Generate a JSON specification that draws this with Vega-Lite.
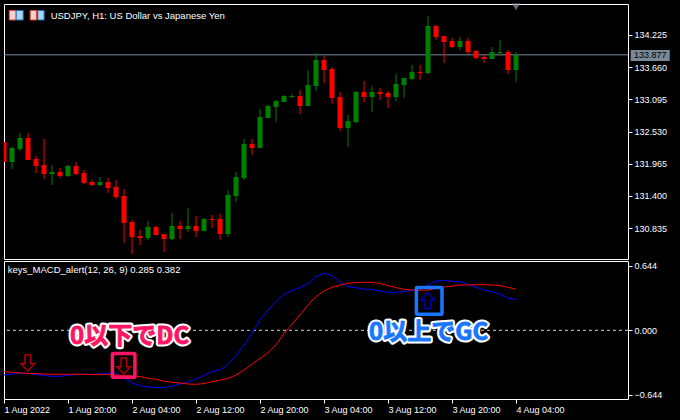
{"$schema":"https://vega.github.io/schema/vega-lite/v6.json","background":"#000000","padding":{"left":3,"top":3,"right":0,"bottom":0},"spacing":0,"config":{"view":{"stroke":"#ffffff","strokeWidth":1},"axis":{"labelFont":"Liberation Sans","labelFontSize":9,"labelColor":"#ffffff","tickColor":"#ffffff","domain":false,"grid":false,"title":null},"text":{"font":"Liberation Sans"}},"datasets":{"candles":[
{"t":"2022-08-01T12:00Z","dir":"down","o":132.347,"h":132.347,"l":131.996,"c":131.996},
{"t":"2022-08-01T13:00Z","dir":"up","o":131.996,"h":132.26,"l":131.874,"c":132.242},
{"t":"2022-08-01T14:00Z","dir":"up","o":132.225,"h":132.505,"l":132.189,"c":132.418},
{"t":"2022-08-01T15:00Z","dir":"down","o":132.418,"h":132.505,"l":132.032,"c":132.032},
{"t":"2022-08-01T16:00Z","dir":"down","o":132.049,"h":132.102,"l":131.803,"c":131.926},
{"t":"2022-08-01T17:00Z","dir":"down","o":131.944,"h":132.4,"l":131.698,"c":131.786},
{"t":"2022-08-01T18:00Z","dir":"up","o":131.786,"h":131.944,"l":131.593,"c":131.821},
{"t":"2022-08-01T19:00Z","dir":"down","o":131.821,"h":131.891,"l":131.716,"c":131.751},
{"t":"2022-08-01T20:00Z","dir":"up","o":131.751,"h":131.944,"l":131.733,"c":131.926},
{"t":"2022-08-01T21:00Z","dir":"down","o":131.926,"h":131.996,"l":131.768,"c":131.786},
{"t":"2022-08-01T22:00Z","dir":"down","o":131.803,"h":131.856,"l":131.61,"c":131.628},
{"t":"2022-08-01T23:00Z","dir":"down","o":131.645,"h":131.681,"l":131.575,"c":131.593},
{"t":"2022-08-02T00:00Z","dir":"up","o":131.593,"h":131.733,"l":131.575,"c":131.645},
{"t":"2022-08-02T01:00Z","dir":"down","o":131.645,"h":131.716,"l":131.452,"c":131.54},
{"t":"2022-08-02T02:00Z","dir":"down","o":131.558,"h":131.681,"l":131.347,"c":131.382},
{"t":"2022-08-02T03:00Z","dir":"down","o":131.4,"h":131.523,"l":130.575,"c":130.926},
{"t":"2022-08-02T04:00Z","dir":"down","o":130.943,"h":130.979,"l":130.382,"c":130.68},
{"t":"2022-08-02T05:00Z","dir":"down","o":130.698,"h":130.803,"l":130.54,"c":130.663},
{"t":"2022-08-02T06:00Z","dir":"up","o":130.663,"h":130.961,"l":130.628,"c":130.856},
{"t":"2022-08-02T07:00Z","dir":"down","o":130.856,"h":130.873,"l":130.715,"c":130.715},
{"t":"2022-08-02T08:00Z","dir":"down","o":130.733,"h":130.733,"l":130.417,"c":130.645},
{"t":"2022-08-02T09:00Z","dir":"up","o":130.645,"h":131.101,"l":130.628,"c":130.873},
{"t":"2022-08-02T10:00Z","dir":"down","o":130.873,"h":130.961,"l":130.645,"c":130.821},
{"t":"2022-08-02T11:00Z","dir":"up","o":130.821,"h":131.189,"l":130.768,"c":130.873},
{"t":"2022-08-02T12:00Z","dir":"down","o":130.873,"h":131.049,"l":130.68,"c":130.785},
{"t":"2022-08-02T13:00Z","dir":"up","o":130.785,"h":131.014,"l":130.785,"c":130.996},
{"t":"2022-08-02T14:00Z","dir":"down","o":130.996,"h":131.066,"l":130.838,"c":130.979},
{"t":"2022-08-02T15:00Z","dir":"down","o":130.996,"h":131.084,"l":130.628,"c":130.733},
{"t":"2022-08-02T16:00Z","dir":"up","o":130.733,"h":131.505,"l":130.68,"c":131.417},
{"t":"2022-08-02T17:00Z","dir":"up","o":131.4,"h":131.821,"l":131.294,"c":131.733},
{"t":"2022-08-02T18:00Z","dir":"up","o":131.716,"h":132.4,"l":131.681,"c":132.312},
{"t":"2022-08-02T19:00Z","dir":"down","o":132.312,"h":132.4,"l":132.119,"c":132.242},
{"t":"2022-08-02T20:00Z","dir":"up","o":132.242,"h":132.927,"l":132.242,"c":132.786},
{"t":"2022-08-02T21:00Z","dir":"up","o":132.769,"h":132.997,"l":132.769,"c":132.979},
{"t":"2022-08-02T22:00Z","dir":"up","o":132.962,"h":133.085,"l":132.698,"c":133.067},
{"t":"2022-08-02T23:00Z","dir":"up","o":133.049,"h":133.172,"l":133.049,"c":133.155},
{"t":"2022-08-03T00:00Z","dir":"up","o":133.137,"h":133.19,"l":133.12,"c":133.155},
{"t":"2022-08-03T01:00Z","dir":"down","o":133.155,"h":133.26,"l":132.839,"c":132.979},
{"t":"2022-08-03T02:00Z","dir":"up","o":132.979,"h":133.611,"l":132.979,"c":133.348},
{"t":"2022-08-03T03:00Z","dir":"up","o":133.33,"h":133.909,"l":133.242,"c":133.787},
{"t":"2022-08-03T04:00Z","dir":"down","o":133.787,"h":133.857,"l":133.383,"c":133.611},
{"t":"2022-08-03T05:00Z","dir":"down","o":133.629,"h":133.664,"l":133.014,"c":133.12},
{"t":"2022-08-03T06:00Z","dir":"down","o":133.137,"h":133.225,"l":132.54,"c":132.593},
{"t":"2022-08-03T07:00Z","dir":"up","o":132.593,"h":132.821,"l":132.26,"c":132.716},
{"t":"2022-08-03T08:00Z","dir":"up","o":132.698,"h":133.242,"l":132.681,"c":133.225},
{"t":"2022-08-03T09:00Z","dir":"down","o":133.225,"h":133.418,"l":133.049,"c":133.137},
{"t":"2022-08-03T10:00Z","dir":"up","o":133.137,"h":133.33,"l":132.874,"c":133.225},
{"t":"2022-08-03T11:00Z","dir":"down","o":133.225,"h":133.295,"l":133.085,"c":133.19},
{"t":"2022-08-03T12:00Z","dir":"down","o":133.207,"h":133.242,"l":132.944,"c":133.137},
{"t":"2022-08-03T13:00Z","dir":"up","o":133.137,"h":133.541,"l":133.067,"c":133.365},
{"t":"2022-08-03T14:00Z","dir":"up","o":133.348,"h":133.471,"l":133.12,"c":133.471},
{"t":"2022-08-03T15:00Z","dir":"up","o":133.453,"h":133.699,"l":133.436,"c":133.576},
{"t":"2022-08-03T16:00Z","dir":"down","o":133.576,"h":133.699,"l":133.436,"c":133.558},
{"t":"2022-08-03T17:00Z","dir":"up","o":133.558,"h":134.559,"l":133.541,"c":134.383},
{"t":"2022-08-03T18:00Z","dir":"down","o":134.383,"h":134.401,"l":134.138,"c":134.19},
{"t":"2022-08-03T19:00Z","dir":"down","o":134.208,"h":134.208,"l":133.734,"c":134.102},
{"t":"2022-08-03T20:00Z","dir":"down","o":134.12,"h":134.173,"l":133.997,"c":134.015},
{"t":"2022-08-03T21:00Z","dir":"up","o":134.015,"h":134.19,"l":133.962,"c":134.12},
{"t":"2022-08-03T22:00Z","dir":"down","o":134.12,"h":134.173,"l":133.892,"c":133.927},
{"t":"2022-08-03T23:00Z","dir":"down","o":133.944,"h":133.962,"l":133.804,"c":133.822},
{"t":"2022-08-04T00:00Z","dir":"down","o":133.839,"h":133.874,"l":133.734,"c":133.804},
{"t":"2022-08-04T01:00Z","dir":"up","o":133.804,"h":134.015,"l":133.804,"c":133.927},
{"t":"2022-08-04T02:00Z","dir":"up","o":133.909,"h":134.138,"l":133.874,"c":133.927},
{"t":"2022-08-04T03:00Z","dir":"down","o":133.927,"h":133.962,"l":133.541,"c":133.611},
{"t":"2022-08-04T04:00Z","dir":"up","o":133.611,"h":133.927,"l":133.4,"c":133.874}
],"macd":[
{"t":"2022-08-01T12:00Z","main":-0.447,"signal":-0.413},
{"t":"2022-08-01T13:00Z","main":-0.437,"signal":-0.42},
{"t":"2022-08-01T14:00Z","main":-0.43,"signal":-0.427},
{"t":"2022-08-01T15:00Z","main":-0.43,"signal":-0.43},
{"t":"2022-08-01T16:00Z","main":-0.44,"signal":-0.433},
{"t":"2022-08-01T17:00Z","main":-0.453,"signal":-0.437},
{"t":"2022-08-01T18:00Z","main":-0.46,"signal":-0.44},
{"t":"2022-08-01T19:00Z","main":-0.46,"signal":-0.44},
{"t":"2022-08-01T20:00Z","main":-0.45,"signal":-0.44},
{"t":"2022-08-01T21:00Z","main":-0.443,"signal":-0.44},
{"t":"2022-08-01T22:00Z","main":-0.44,"signal":-0.44},
{"t":"2022-08-01T23:00Z","main":-0.44,"signal":-0.443},
{"t":"2022-08-02T00:00Z","main":-0.437,"signal":-0.443},
{"t":"2022-08-02T01:00Z","main":-0.43,"signal":-0.443},
{"t":"2022-08-02T02:00Z","main":-0.427,"signal":-0.447},
{"t":"2022-08-02T03:00Z","main":-0.473,"signal":-0.453},
{"t":"2022-08-02T04:00Z","main":-0.527,"signal":-0.457},
{"t":"2022-08-02T05:00Z","main":-0.553,"signal":-0.463},
{"t":"2022-08-02T06:00Z","main":-0.567,"signal":-0.48},
{"t":"2022-08-02T07:00Z","main":-0.573,"signal":-0.49},
{"t":"2022-08-02T08:00Z","main":-0.573,"signal":-0.51},
{"t":"2022-08-02T09:00Z","main":-0.557,"signal":-0.52},
{"t":"2022-08-02T10:00Z","main":-0.537,"signal":-0.527},
{"t":"2022-08-02T11:00Z","main":-0.517,"signal":-0.537},
{"t":"2022-08-02T12:00Z","main":-0.487,"signal":-0.54},
{"t":"2022-08-02T13:00Z","main":-0.45,"signal":-0.533},
{"t":"2022-08-02T14:00Z","main":-0.413,"signal":-0.513},
{"t":"2022-08-02T15:00Z","main":-0.397,"signal":-0.5},
{"t":"2022-08-02T16:00Z","main":-0.34,"signal":-0.48},
{"t":"2022-08-02T17:00Z","main":-0.253,"signal":-0.447},
{"t":"2022-08-02T18:00Z","main":-0.147,"signal":-0.397},
{"t":"2022-08-02T19:00Z","main":-0.03,"signal":-0.337},
{"t":"2022-08-02T20:00Z","main":0.103,"signal":-0.28},
{"t":"2022-08-02T21:00Z","main":0.203,"signal":-0.223},
{"t":"2022-08-02T22:00Z","main":0.287,"signal":-0.147},
{"t":"2022-08-02T23:00Z","main":0.36,"signal":-0.03},
{"t":"2022-08-03T00:00Z","main":0.397,"signal":0.06},
{"t":"2022-08-03T01:00Z","main":0.43,"signal":0.153},
{"t":"2022-08-03T02:00Z","main":0.463,"signal":0.253},
{"t":"2022-08-03T03:00Z","main":0.537,"signal":0.337},
{"t":"2022-08-03T04:00Z","main":0.57,"signal":0.393},
{"t":"2022-08-03T05:00Z","main":0.547,"signal":0.43},
{"t":"2022-08-03T06:00Z","main":0.48,"signal":0.453},
{"t":"2022-08-03T07:00Z","main":0.437,"signal":0.47},
{"t":"2022-08-03T08:00Z","main":0.427,"signal":0.477},
{"t":"2022-08-03T09:00Z","main":0.41,"signal":0.48},
{"t":"2022-08-03T10:00Z","main":0.41,"signal":0.48},
{"t":"2022-08-03T11:00Z","main":0.393,"signal":0.467},
{"t":"2022-08-03T12:00Z","main":0.38,"signal":0.447},
{"t":"2022-08-03T13:00Z","main":0.38,"signal":0.427},
{"t":"2022-08-03T14:00Z","main":0.387,"signal":0.41},
{"t":"2022-08-03T15:00Z","main":0.4,"signal":0.403},
{"t":"2022-08-03T16:00Z","main":0.403,"signal":0.4},
{"t":"2022-08-03T17:00Z","main":0.453,"signal":0.403},
{"t":"2022-08-03T18:00Z","main":0.493,"signal":0.42},
{"t":"2022-08-03T19:00Z","main":0.5,"signal":0.433},
{"t":"2022-08-03T20:00Z","main":0.49,"signal":0.443},
{"t":"2022-08-03T21:00Z","main":0.487,"signal":0.453},
{"t":"2022-08-03T22:00Z","main":0.46,"signal":0.453},
{"t":"2022-08-03T23:00Z","main":0.43,"signal":0.457},
{"t":"2022-08-04T00:00Z","main":0.403,"signal":0.457},
{"t":"2022-08-04T01:00Z","main":0.387,"signal":0.453},
{"t":"2022-08-04T02:00Z","main":0.36,"signal":0.447},
{"t":"2022-08-04T03:00Z","main":0.32,"signal":0.43},
{"t":"2022-08-04T04:00Z","main":0.307,"signal":0.41}
]},"vconcat":[
{"width":624,"height":255,"encoding":{"x":{"field":"t","type":"temporal","axis":null,"scale":{"type":"utc","domain":[1659355200000,1659636000000],"nice":false,"padding":0}}},"layer":[
{"data":{"values":[{"t":"2022-08-01T12:00Z","v":133.877}]},"mark":{"type":"rule","color":"#778899","strokeWidth":1},"encoding":{"x":null,"y":{"field":"v","type":"quantitative","scale":{"domain":[130.294,134.769],"nice":false,"zero":false},"axis":{"orient":"right","values":[134.225,133.66,133.095,132.53,131.965,131.4,130.835],"format":".3f","tickSize":4,"labelPadding":2,"minExtent":53,"maxExtent":53}}}},
{"data":{"name":"candles"},"mark":{"type":"rule","strokeWidth":1,"clip":true},"encoding":{"y":{"field":"h","type":"quantitative"},"y2":{"field":"l"},"color":{"field":"dir","type":"nominal","legend":null,"scale":{"domain":["up","down"],"range":["#008000","#ff0000"]}}}},
{"data":{"name":"candles"},"mark":{"type":"bar","size":5,"clip":true},"encoding":{"y":{"field":"o","type":"quantitative"},"y2":{"field":"c"},"color":{"field":"dir","type":"nominal","legend":null}}},
{"data":{"values":[{"t":"2022-08-04T04:00Z","v":134.717}]},"mark":{"type":"point","shape":"triangle-down","filled":true,"size":60,"color":"#8a9aa8"},"encoding":{"y":{"field":"v","type":"quantitative"}}},
{"data":{"values":[{"t":"2022-08-01T12:39Z","t2":"2022-08-01T13:31Z","v":134.655,"v2":134.488},{"t":"2022-08-01T15:16Z","t2":"2022-08-01T16:05Z","v":134.655,"v2":134.488}]},"mark":{"type":"rect","fill":"#ffd0d0","stroke":"#e04030","strokeWidth":1},"encoding":{"x2":{"field":"t2"},"y":{"field":"v","type":"quantitative"},"y2":{"field":"v2"}}},
{"data":{"values":[{"t":"2022-08-01T13:31Z","t2":"2022-08-01T14:24Z","v":134.655,"v2":134.488},{"t":"2022-08-01T16:13Z","t2":"2022-08-01T17:01Z","v":134.655,"v2":134.488}]},"mark":{"type":"rect","fill":"#a8d4f5","stroke":"#1e6fb0","strokeWidth":1},"encoding":{"x2":{"field":"t2"},"y":{"field":"v","type":"quantitative"},"y2":{"field":"v2"}}},
{"data":{"values":[{"t":"2022-08-01T17:50Z","v":134.567,"label":"USDJPY, H1:  US Dollar vs Japanese Yen"}]},"mark":{"type":"text","align":"left","baseline":"middle","fontSize":9.5,"color":"#ffffff"},"encoding":{"y":{"field":"v","type":"quantitative"},"text":{"field":"label"}}},
{"data":{"values":[{"t":"2022-08-04T18:20Z","t2":"2022-08-04T23:13Z","v":133.962,"v2":133.769}]},"mark":{"type":"rect","fill":"#778899"},"encoding":{"x2":{"field":"t2"},"y":{"field":"v","type":"quantitative"},"y2":{"field":"v2"}}},
{"data":{"values":[{"t":"2022-08-04T20:47Z","v":133.877,"label":"133.877"}]},"mark":{"type":"text","align":"center","baseline":"middle","fontSize":9,"color":"#000000"},"encoding":{"y":{"field":"v","type":"quantitative"},"text":{"field":"label"}}}
]},
{"width":624,"height":138,"encoding":{"x":{"field":"t","type":"temporal","scale":{"type":"utc","domain":[1659355200000,1659636000000],"nice":false},"axis":{"values":[1659355200000,1659384000000,1659412800000,1659441600000,1659470400000,1659499200000,1659528000000,1659556800000,1659585600000],"labelExpr":"utchours(datum.value)==12 && utcdate(datum.value)==1 ? utcFormat(datum.value,'%-d %b %Y') : utcFormat(datum.value,'%-d %b %H:%M')","labelAlign":"left","labelBaseline":"middle","labelPadding":6,"tickSize":4,"labelOverlap":false,"labelFlush":false,"minExtent":21,"maxExtent":21}}},"layer":[
{"data":{"values":[{"t":"2022-08-01T12:00Z","v":0}]},"mark":{"type":"rule","color":"#d0d0d0","strokeWidth":1,"strokeDash":[3,3]},"encoding":{"x":null,"y":{"field":"v","type":"quantitative","scale":{"domain":[-0.687,0.693],"nice":false,"zero":false},"axis":{"orient":"right","values":[0.644,0,-0.644],"format":".3f","tickSize":4,"labelPadding":2,"minExtent":53,"maxExtent":53}}}},
{"data":{"name":"macd"},"mark":{"type":"line","color":"#0000ff","strokeWidth":1,"clip":true},"encoding":{"y":{"field":"main","type":"quantitative"}}},
{"data":{"name":"macd"},"mark":{"type":"line","color":"#ff0000","strokeWidth":1,"clip":true},"encoding":{"y":{"field":"signal","type":"quantitative"}}},
{"data":{"values":[{"t":"2022-08-01T14:58Z","v":-0.327},{"t":"2022-08-02T02:58Z","v":-0.357}]},"mark":{"type":"point","shape":"M -0.35 -1 L 0.35 -1 L 0.35 0.1 L 0.85 0.1 L 0 1 L -0.85 0.1 L -0.35 0.1 Z","size":256,"filled":false,"stroke":"#b00000","strokeWidth":1.5,"opacity":1},"encoding":{"y":{"field":"v","type":"quantitative"}}},
{"data":{"values":[{"t":"2022-08-03T16:58Z","v":0.296}]},"mark":{"type":"point","shape":"M -0.35 1 L 0.35 1 L 0.35 -0.1 L 0.85 -0.1 L 0 -1 L -0.85 -0.1 L -0.35 -0.1 Z","size":256,"filled":false,"stroke":"#0000b0","strokeWidth":1.5,"opacity":1},"encoding":{"y":{"field":"v","type":"quantitative"}}},
{"data":{"values":[{"t":"2022-08-02T01:33Z","t2":"2022-08-02T04:22Z","v":-0.233,"v2":-0.47}]},"mark":{"type":"rect","filled":false,"stroke":"#ff1464","strokeWidth":3.5,"cornerRadius":1},"encoding":{"x2":{"field":"t2"},"y":{"field":"v","type":"quantitative"},"y2":{"field":"v2"}}},
{"data":{"values":[{"t":"2022-08-03T15:33Z","t2":"2022-08-03T18:45Z","v":0.427,"v2":0.16}]},"mark":{"type":"rect","filled":false,"stroke":"#1a75ff","strokeWidth":3.5,"cornerRadius":1},"encoding":{"x2":{"field":"t2"},"y":{"field":"v","type":"quantitative"},"y2":{"field":"v2"}}},
{"data":{"values":[{"t":"2022-08-01T12:28Z","v":0.6,"label":"keys_MACD_alert(12, 26, 9) 0.285 0.382"}]},"mark":{"type":"text","align":"left","baseline":"middle","fontSize":9.5,"color":"#ffffff"},"encoding":{"y":{"field":"v","type":"quantitative"},"text":{"field":"label"}}},
{"data":{"values":[{"t":"2022-08-02T03:42Z","v":-0.063,"label":"0以下でDC"}]},"mark":{"type":"text","align":"center","baseline":"middle","font":"Noto Sans CJK JP","fontWeight":"bold","fontSize":24,"fill":"#ff1464","stroke":"#ffffff","strokeWidth":5,"strokeJoin":"round"},"encoding":{"y":{"field":"v","type":"quantitative"},"text":{"field":"label"}}},
{"data":{"values":[{"t":"2022-08-02T03:42Z","v":-0.063,"label":"0以下でDC"}]},"mark":{"type":"text","align":"center","baseline":"middle","font":"Noto Sans CJK JP","fontWeight":"bold","fontSize":24,"fill":"#ff1464","stroke":"#ff1464","strokeWidth":0.8},"encoding":{"y":{"field":"v","type":"quantitative"},"text":{"field":"label"}}},
{"data":{"values":[{"t":"2022-08-03T17:05Z","v":-0.03,"label":"0以上でGC"}]},"mark":{"type":"text","align":"center","baseline":"middle","font":"Noto Sans CJK JP","fontWeight":"bold","fontSize":24,"fill":"#1a75ff","stroke":"#ffffff","strokeWidth":5,"strokeJoin":"round"},"encoding":{"y":{"field":"v","type":"quantitative"},"text":{"field":"label"}}},
{"data":{"values":[{"t":"2022-08-03T17:05Z","v":-0.03,"label":"0以上でGC"}]},"mark":{"type":"text","align":"center","baseline":"middle","font":"Noto Sans CJK JP","fontWeight":"bold","fontSize":24,"fill":"#1a75ff","stroke":"#1a75ff","strokeWidth":0.8},"encoding":{"y":{"field":"v","type":"quantitative"},"text":{"field":"label"}}}
]}
]}
